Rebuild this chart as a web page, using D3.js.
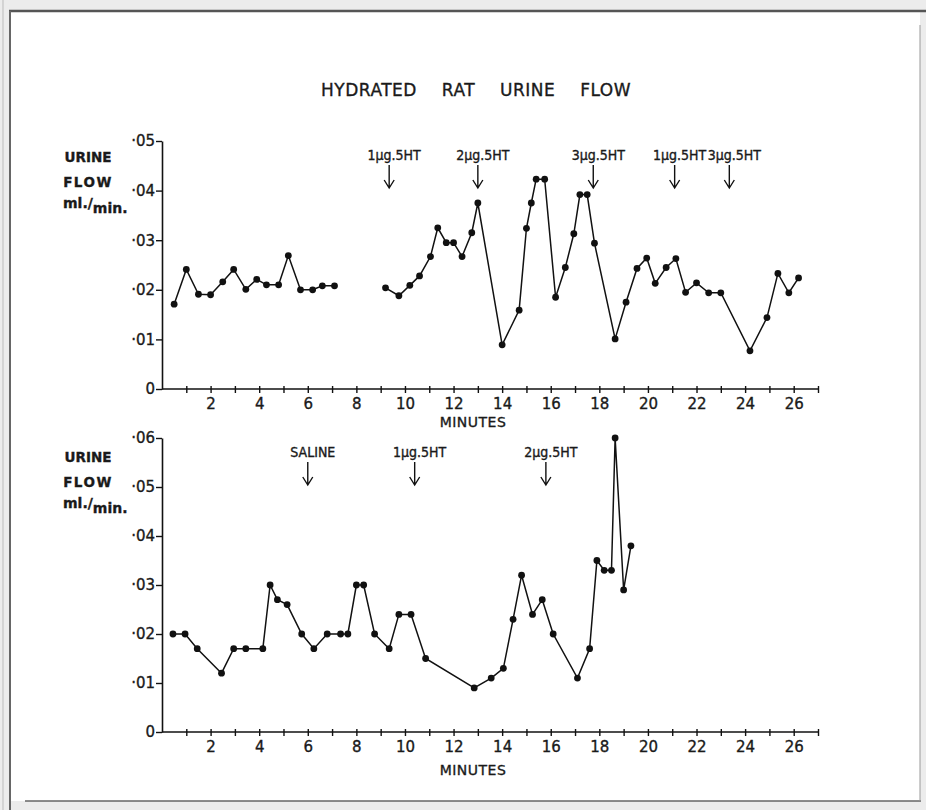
<!DOCTYPE html>
<html>
<head>
<meta charset="utf-8">
<script src="https://cdn.jsdelivr.net/npm/d3@7"></script>
<style>
body{margin:0;background:#ececec;}
text{font-family:"DejaVu Sans",sans-serif;fill:#1a1a1a;stroke:#1a1a1a;stroke-width:0.35px;}
</style>
</head>
<body>
<div id="chart"></div>
<script>
// upper record: minutes and flow (null = gap in the trace)
var topMinutes=[0.5,1.0,1.5,2.0,2.5,2.95,3.45,3.9,4.3,4.8,5.2,5.7,6.2,6.6,7.1,
  null,
  9.2,9.75,10.2,10.6,11.05,11.35,11.7,12.0,12.35,12.75,13.0,14.0,14.7,15.0,15.2,15.4,15.75,16.2,16.6,16.95,17.2,17.5,17.8,18.65,19.1,19.55,19.95,20.3,20.75,21.15,21.55,22.0,22.5,23.0,24.2,24.9,25.35,25.8,26.2];
var topFlow=[0.0171,0.0241,0.0191,0.019,0.0216,0.0241,0.0201,0.0221,0.021,0.021,0.0269,0.020,0.020,0.0208,0.0208,
  null,
  0.0204,0.0188,0.0209,0.0228,0.0267,0.0325,0.0295,0.0295,0.0267,0.0315,0.0375,0.0089,0.0159,0.0324,0.0375,0.0423,0.0423,0.0185,0.0245,0.0313,0.0392,0.0392,0.0294,0.0101,0.0175,0.0243,0.0264,0.0213,0.0245,0.0263,0.0195,0.0214,0.0194,0.0194,0.0077,0.0144,0.0233,0.0194,0.0224];

// lower record
var botMinutes=[0.45,0.95,1.45,2.45,2.95,3.45,4.15,4.45,4.75,5.15,5.75,6.25,6.8,7.35,7.65,8.0,8.3,8.75,9.35,9.75,10.25,10.85,12.85,13.55,14.05,14.45,14.8,15.25,15.65,16.1,17.1,17.6,17.9,18.2,18.5,18.65,19.0,19.3];
var botFlow=[0.020,0.020,0.017,0.012,0.017,0.017,0.017,0.030,0.027,0.026,0.020,0.017,0.020,0.020,0.020,0.030,0.030,0.020,0.017,0.024,0.024,0.015,0.009,0.011,0.013,0.023,0.032,0.024,0.027,0.020,0.011,0.017,0.035,0.033,0.033,0.060,0.029,0.038];

var topDoseMinutes=[9.35,13.0,17.75,21.1,23.35];
var topDoseLabels=["1μg.5HT","2μg.5HT","3μg.5HT","1μg.5HT","3μg.5HT"];
var botDoseMinutes=[6.0,10.4,15.8];
var botDoseLabels=["SALINE","1μg.5HT","2μg.5HT"];

var topTicks=[0,0.01,0.02,0.03,0.04,0.05];
var botTicks=[0,0.01,0.02,0.03,0.04,0.05,0.06];
var minuteTicks=d3.range(1,28);

var width=926,height=810;
var svg=d3.select("#chart").append("svg")
  .attr("width",width).attr("height",height);

// paper / frame
svg.append("rect").attr("x",10).attr("y",12).attr("width",910).attr("height",789).attr("fill","#fff");
svg.append("line").attr("x1",9).attr("x2",926).attr("y1",11).attr("y2",11).attr("stroke","#555").attr("stroke-width",2.5);
svg.append("line").attr("x1",10).attr("x2",10).attr("y1",11).attr("y2",810).attr("stroke","#666").attr("stroke-width",2);
svg.append("line").attr("x1",3).attr("x2",3).attr("y1",0).attr("y2",810).attr("stroke","#bbb").attr("stroke-width",1);
svg.append("line").attr("x1",25).attr("x2",921).attr("y1",801).attr("y2",801).attr("stroke","#666").attr("stroke-width",1.5);
svg.append("line").attr("x1",920).attr("x2",920).attr("y1",25).attr("y2",801).attr("stroke","#999").attr("stroke-width",1);

svg.append("text").attr("x",476).attr("y",96)
  .attr("text-anchor","middle").attr("font-size",17).style("word-spacing","19px").style("letter-spacing","0.5px")
  .text("HYDRATED RAT URINE FLOW");

var x=d3.scaleLinear().domain([0,27]).range([162,818]);

function yFmt(v){
  return v===0?"0":"·"+d3.format("02d")(Math.round(v*100));
}

function panel(y,yTicks,minutes,flow,doseMin,doseLab,labelTop,minutesY){
  var data=minutes.map(function(m,i){return {m:m,v:flow[i]};});

  var xAxis=svg.append("g").attr("transform","translate(0,"+y(0)+")")
    .call(d3.axisBottom(x).tickValues(minuteTicks).tickSizeOuter(0)
      .tickFormat(function(d){return d%2===0?d:"";}));
  xAxis.select(".domain").attr("d","M"+x(0)+",0H"+x(27)).attr("stroke","#111").attr("stroke-width",1.6);
  xAxis.selectAll(".tick line").attr("y1",-3).attr("y2",4).attr("stroke","#111").attr("stroke-width",1.4);
  xAxis.selectAll(".tick text").attr("y",9).attr("font-size",15).attr("fill","#1a1a1a")
    .style("font-family","'DejaVu Sans',sans-serif");

  var yAxis=svg.append("g").attr("transform","translate("+x(0)+",0)")
    .call(d3.axisLeft(y).tickValues(yTicks).tickSize(6).tickSizeOuter(0).tickFormat(yFmt));
  yAxis.select(".domain").attr("stroke","#111").attr("stroke-width",1.6);
  yAxis.selectAll(".tick line").attr("stroke","#111").attr("stroke-width",1.4);
  yAxis.selectAll(".tick text").attr("x",-7).attr("font-size",15).attr("fill","#1a1a1a")
    .style("font-family","'DejaVu Sans',sans-serif");

  svg.append("text").attr("x",473).attr("y",minutesY).attr("text-anchor","middle")
    .attr("font-size",14).style("letter-spacing","0.5px").text("MINUTES");

  var line=d3.line().defined(function(d){return d.m!==null;})
    .x(function(d){return x(d.m);}).y(function(d){return y(d.v);});
  svg.append("path").datum(data).attr("d",line)
    .attr("fill","none").attr("stroke","#111").attr("stroke-width",1.5);
  svg.selectAll(null).data(data.filter(function(d){return d.m!==null;}))
    .enter().append("circle")
    .attr("cx",function(d){return x(d.m);})
    .attr("cy",function(d){return y(d.v);})
    .attr("r",3.4).attr("fill","#111");

  // y label
  svg.append("text").attr("x",88).attr("y",labelTop).attr("text-anchor","middle")
    .attr("font-size",13.5).attr("font-weight","bold").text("URINE");
  svg.append("text").attr("x",88).attr("y",labelTop+25).attr("text-anchor","middle")
    .attr("font-size",13.5).attr("font-weight","bold").style("letter-spacing","1.5px").text("FLOW");
  var ml=svg.append("text").attr("x",63).attr("y",labelTop+46)
    .attr("font-size",14).attr("font-weight","bold");
  ml.append("tspan").text("ml./");
  ml.append("tspan").attr("dy",5).text("min.");

  // dose arrows
  doseMin.forEach(function(m,i){
    var ax=x(m),top=y(yTicks[yTicks.length-1])+24;
    var g=svg.append("g");
    g.append("text").attr("x",ax+5).attr("y",top-5).attr("text-anchor","middle")
      .attr("font-size",14).style("font-family","'DejaVu Sans Condensed',sans-serif").text(doseLab[i]);
    g.append("path")
      .attr("d","M"+ax+","+top+"V"+(top+23)+"M"+(ax-5)+","+(top+15)+"L"+ax+","+(top+23)+"L"+(ax+5)+","+(top+15))
      .attr("fill","none").attr("stroke","#111").attr("stroke-width",1.4);
  });
}

var yTop=d3.scaleLinear().domain([0,0.05]).range([389,141]);
var yBot=d3.scaleLinear().domain([0,0.06]).range([732,438]);

panel(yTop,topTicks,topMinutes,topFlow,topDoseMinutes,topDoseLabels,162,427);
panel(yBot,botTicks,botMinutes,botFlow,botDoseMinutes,botDoseLabels,462,775);
</script>
</body>
</html>
